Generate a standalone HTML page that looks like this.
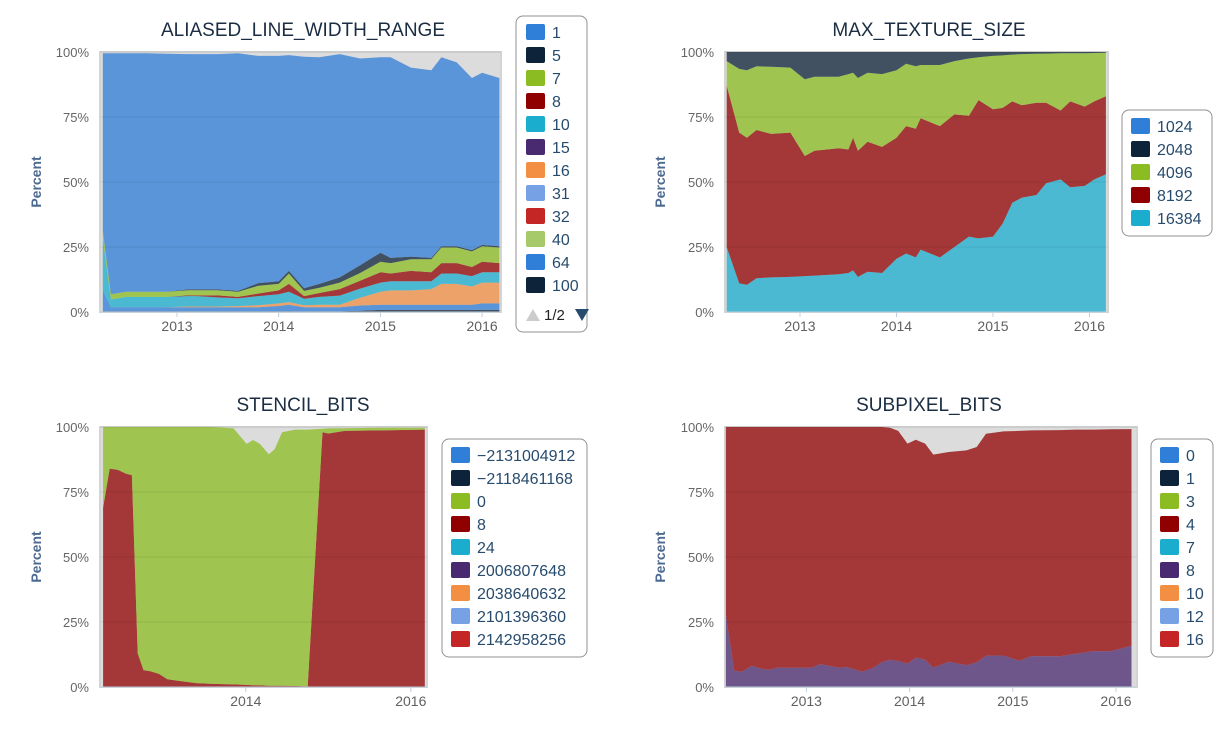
<!DOCTYPE html>
<html><head><meta charset="utf-8"><title>WebGL parameters</title>
<style>
html,body{margin:0;padding:0;background:#fff;}
svg{display:block;font-family:"Liberation Sans",sans-serif;}
</style></head>
<body>
<svg id="root" width="1232" height="732" viewBox="0 0 1232 732" xmlns="http://www.w3.org/2000/svg"></svg>
<script>
// ---------- Chart 1: ALIASED_LINE_WIDTH_RANGE ----------
const alwDates = [2012.27,2012.35,2012.5,2012.7,2012.9,2013.1,2013.2,2013.4,2013.6,2013.8,2014.0,2014.1,2014.25,2014.4,2014.6,2014.8,2015.0,2015.1,2015.3,2015.5,2015.6,2015.75,2015.9,2016.0,2016.17];
const alw100 = [.3,.3,.3,.3,.3,.3,.3,.3,.3,.3,.3,.3,.3,.3,.3,.5,.8,.8,.8,.8,.8,.8,.8,.8,.8];
const alw64 = [8,1.5,1.5,1.5,1.5,1.5,1.5,1.5,1.5,1.5,2,2.5,1.5,1.5,1.5,2,2,2,2,2,2,2,2,2.5,2.5];
const alw16 = [0,0,0,0,0,.3,.3,.3,.5,.8,1,1,.8,1,1,3,5,5.5,5.5,6,8,8,7,8,8];
const alw10 = [20,3,4,4,4,4,4,3.5,3,3.5,3.5,4,2.5,3,3.5,3.5,3.5,3.5,3.5,3,4,4,4,4,4];
const alw8 = [0,0,0,0,0,.3,.3,.8,.5,1,1.5,3,1,1.5,2.5,3,4,3,4,3.5,4,4,3.5,4,3.5];
const alw7 = [3,2,2,2,2,2,2,2,2,3,2.5,4,2,2,2.5,3,4,4,4.5,5,6,6,6,6,6];
const alw5 = [0,0,0,0,0,.3,.3,.3,.3,1,1,1,1,1.5,2,3,3.5,2,1,.5,.5,.5,.5,.5,.5];
const alw1 = [68.2,92.7,91.7,91.7,91.5,90.5,90.5,90.5,91.4,87.4,86.7,83,89.1,87.2,85.9,79.5,75.2,77.2,72.7,72.2,72.7,70.7,66.2,66.2,64.7];
const alwLegend = ["1","5","7","8","10","15","16","31","32","40","64","100"];

// ---------- Chart 2: MAX_TEXTURE_SIZE ----------
const mtsDates = [2012.24,2012.37,2012.45,2012.55,2012.7,2012.9,2013.05,2013.15,2013.4,2013.5,2013.55,2013.6,2013.7,2013.85,2014.0,2014.1,2014.2,2014.25,2014.45,2014.6,2014.75,2014.85,2015.0,2015.1,2015.2,2015.3,2015.45,2015.55,2015.7,2015.8,2015.95,2016.05,2016.17];
const mts16384 = [25,11,10.5,13,13.3,13.5,13.8,14,14.5,15,16,13.5,15.5,15,20.5,22.5,21,24,21,25,29,28.3,29,34,42,44,45,49.5,51,48,48.5,51,53];
const mts8192 = [62,58,56.5,57,55.2,55.5,46.2,48,48.5,47.5,51,48.5,50,48.5,46.5,49,49.5,50.5,50.5,51,46.5,53.2,49,44.5,39,35.5,35.5,31,26.5,33,30.5,30,30];
const mts4096 = [9.5,24.5,26,24.5,25.8,25,29.5,28.5,27.5,29,25,28,26.5,28,26,24,24,20.5,23.5,20.5,22,16.5,20.5,20.2,18,19.7,18.8,18.9,22,18.5,20.5,18.6,16.7];
const mts2048 = [3.5,6.5,7,5.5,5.7,6,10.5,9.5,9.5,8.5,8,10,8,8.5,7,4.5,5.5,5,5,3.5,2.5,2,1.5,1.3,1,.8,.7,.6,.5,.5,.5,.4,.3];
const mtsLegend = ["1024","2048","4096","8192","16384"];

// ---------- Chart 3: STENCIL_BITS ----------
const sbDates = [2012.27,2012.35,2012.45,2012.55,2012.62,2012.69,2012.76,2012.85,2012.95,2013.05,2013.2,2013.4,2013.6,2013.85,2014.01,2014.09,2014.17,2014.28,2014.35,2014.44,2014.6,2014.75,2014.93,2015.0,2015.2,2015.6,2016.17];
const sb8 = [69,84,83.5,82,81.5,13,6.5,6,5,3,2.3,1.5,1.2,1,.8,.7,.6,.5,.5,.5,.4,.3,98,97.5,98.5,98.7,99];
const sb0 = [31,16,16.5,18,18.5,87,93.5,94,95,97,97.7,98.5,98.8,98.5,92.7,94.3,92.9,89,91,97.5,98.6,98.7,1.3,2,1,1,.7];
const sbLegend = ["\u22122131004912","\u22122118461168","0","8","24","2006807648","2038640632","2101396360","2142958256"];

// ---------- Chart 4: SUBPIXEL_BITS ----------
const spDates = [2012.22,2012.30,2012.37,2012.47,2012.56,2012.64,2012.71,2013.05,2013.13,2013.32,2013.39,2013.54,2013.64,2013.73,2013.81,2013.89,2013.98,2014.06,2014.15,2014.23,2014.38,2014.55,2014.65,2014.74,2014.91,2015.06,2015.18,2015.46,2015.61,2015.78,2015.95,2016.15];
const sp8 = [27.7,6.3,5.9,8.2,7,6.6,7.4,7.4,8.8,7.4,7.7,5.9,7.2,9.5,10.5,10,9,11.3,10.5,7.4,9.7,8.4,9.5,12,12.1,10.1,11.9,11.8,12.8,13.8,13.8,15.9];
const sp4 = [72.3,93.7,94.1,91.8,93,93.4,92.6,92.6,91.2,92.6,92.3,94.1,92.8,90.5,89.2,88.5,84.6,83.8,83.1,82,80.7,82.6,82.8,85.4,86.2,88.4,86.8,87,86.2,85.2,85.3,83.3];
const spLegend = ["0","1","3","4","7","8","10","12","16"];

const yTicks = [0,25,50,75,100];
const C = {blue:"#2f7ed8",navy:"#0d233a",green:"#8bbc21",dred:"#910000",cyan:"#1aadce",purple:"#492970",orange:"#f28f43",lblue:"#77a1e5",red:"#c42525",lgreen:"#a6c96a"};
const NS = "http://www.w3.org/2000/svg";
const root = document.getElementById('root');
function mk(tag, attrs, parent){const e=document.createElementNS(NS,tag);for(const k in attrs)e.setAttribute(k,attrs[k]);(parent||root).appendChild(e);return e;}

function drawChart(cfg){
  const g = mk('g',{});
  
  
  const L=cfg.left,R=cfg.right,T=cfg.top,B=cfg.bottom;
  const xs = yr => cfg.refX + (yr - cfg.refYear)*cfg.ppy;
  const ys = v => B - v/100*(B-T);
  const bg = mk('rect',{x:L,y:T,width:R-L,height:B-T,fill:"#dcdcdc",stroke:"#d4d4d4","stroke-width":2},g);
  
  
  // stacked areas
  let base = cfg.dates.map(()=>0);
  cfg.series.forEach(s=>{
    const top = base.map((b,i)=>b+s.values[i]);
    let d = "";
    cfg.dates.forEach((t,i)=>{d += (i?"L":"M")+xs(t).toFixed(1)+","+ys(top[i]).toFixed(1);});
    for(let i=cfg.dates.length-1;i>=0;i--){d += "L"+xs(cfg.dates[i]).toFixed(1)+","+ys(base[i]).toFixed(1);}
    const p = mk('path',{d:d+"Z",fill:s.color,"fill-opacity":0.75},g);
    
    
    base = top;
  });
  // grid + y labels
  yTicks.forEach(v=>{
    const gl = mk('line',{x1:L,x2:R,y1:ys(v),y2:ys(v),stroke:"rgba(0,0,0,0.07)","stroke-width":1},g);
    
    
    const t = mk('text',{x:cfg.ylabX,y:ys(v)+5,"text-anchor":"end","font-size":13,fill:"#666"},g);
    t.textContent = v+"%";
    
    
  });
  const ax = mk('line',{x1:L,x2:R,y1:B,y2:B,stroke:"#c0d0e0","stroke-width":1},g);
  
  
  cfg.xTicks.forEach(yr=>{
    const x = xs(yr);
    const tk = mk('line',{x1:x,x2:x,y1:B,y2:B+5,stroke:"#c0d0e0"},g);
    
    
    const t = mk('text',{x:x,y:B+19,"text-anchor":"middle","font-size":14,fill:"#606060"},g);
    t.textContent = yr;
    
    
  });
  const yt = mk('text',{x:0,y:0,transform:`translate(${cfg.ytitleX},${(T+B)/2}) rotate(-90)`,"text-anchor":"middle","font-size":14,"font-weight":"bold",fill:"#4d6a92"},g);
  yt.textContent="Percent";
  
  
  const ti = mk('text',{x:cfg.titleX,y:cfg.titleY,"text-anchor":"middle","font-size":19,fill:"#1b2d42"},g);
  ti.textContent = cfg.title;
  
  
  // legend
  const lg = cfg.legend;
  const box = mk('rect',{x:lg.x,y:lg.y,width:lg.w,height:lg.h,rx:7,fill:"#fff",stroke:"#909090","stroke-width":1},g);
  
  
  lg.items.forEach((lab,i)=>{
    const cy = lg.firstY + i*23;
    const sq = mk('rect',{x:lg.sqX,y:cy-8,width:19,height:16,rx:2,fill:lg.colors[i]},g);
    
    
    const t = mk('text',{x:lg.sqX+26,y:cy+6,"font-size":16,fill:"#274b6d"},g);
    t.textContent = lab;
    
    
  });
  return g;
}

const pal12 = [C.blue,C.navy,C.green,C.dred,C.cyan,C.purple,C.orange,C.lblue,C.red,C.lgreen,C.blue,C.navy];
const pal9 = [C.blue,C.navy,C.green,C.dred,C.cyan,C.purple,C.orange,C.lblue,C.red];

drawChart({name:'chart-aliased-line-width-range',title:'ALIASED_LINE_WIDTH_RANGE',left:100,right:501,top:52,bottom:312,
  refYear:2013,refX:177,ppy:101.7,xTicks:[2013,2014,2015,2016],ylabX:89,ytitleX:41,titleX:303,titleY:36,dates:alwDates,
  series:[{label:'100',values:alw100,color:C.navy},{label:'64',values:alw64,color:C.blue},{label:'16',values:alw16,color:C.orange},
    {label:'10',values:alw10,color:C.cyan},{label:'8',values:alw8,color:C.dred},{label:'7',values:alw7,color:C.green},
    {label:'5',values:alw5,color:C.navy},{label:'1',values:alw1,color:C.blue}],
  legend:{x:516,y:16,w:71,h:316,sqX:526,firstY:32,items:alwLegend,colors:pal12}});

drawChart({name:'chart-max-texture-size',title:'MAX_TEXTURE_SIZE',left:725,right:1108,top:52,bottom:312,
  refYear:2013,refX:800,ppy:96.5,xTicks:[2013,2014,2015,2016],ylabX:714,ytitleX:665,titleX:929,titleY:36,dates:mtsDates,
  series:[{label:'16384',values:mts16384,color:C.cyan},{label:'8192',values:mts8192,color:C.dred},{label:'4096',values:mts4096,color:C.green},{label:'2048',values:mts2048,color:C.navy}],
  legend:{x:1122,y:110,w:90,h:126,sqX:1131,firstY:126,items:mtsLegend,colors:[C.blue,C.navy,C.green,C.dred,C.cyan]}});

drawChart({name:'chart-stencil-bits',title:'STENCIL_BITS',left:100,right:427,top:427,bottom:687,
  refYear:2014,refX:245.8,ppy:82.5,xTicks:[2014,2016],ylabX:89,ytitleX:41,titleX:303,titleY:411,dates:sbDates,
  series:[{label:'8',values:sb8,color:C.dred},{label:'0',values:sb0,color:C.green}],
  legend:{x:442,y:439,w:145,h:218,sqX:451,firstY:455,items:sbLegend,colors:pal9}});

drawChart({name:'chart-subpixel-bits',title:'SUBPIXEL_BITS',left:725,right:1137,top:427,bottom:687,
  refYear:2013,refX:806.4,ppy:103.2,xTicks:[2013,2014,2015,2016],ylabX:714,ytitleX:665,titleX:929,titleY:411,dates:spDates,
  series:[{label:'8',values:sp8,color:C.purple},{label:'4',values:sp4,color:C.dred}],
  legend:{x:1151,y:439,w:62,h:218,sqX:1160,firstY:455,items:spLegend,colors:pal9}});

// legend pager for chart 1
const up = mk('path',{d:"M526,321 L533,309 L540,321 Z",fill:"#cccccc"});


const pg = mk('text',{x:544,y:320,"font-size":15,fill:"#222"});
pg.textContent = "1/2";


const dn = mk('path',{d:"M575,309 L589,309 L582,321 Z",fill:"#274b6d"});


</script>
</body></html>
